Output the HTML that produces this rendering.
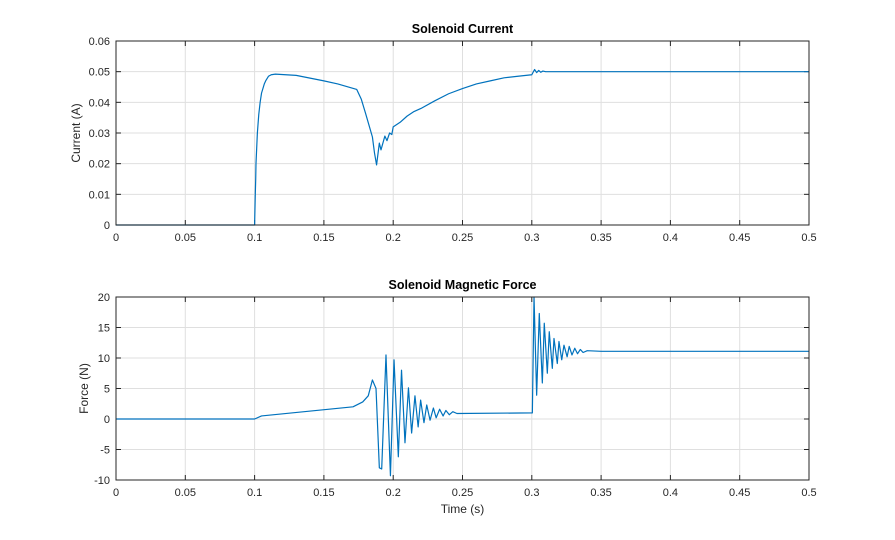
<!DOCTYPE html>
<html><head><meta charset="utf-8"><style>
body{margin:0;background:#fff;}
svg{display:block;font-family:"Liberation Sans",Arial,sans-serif;}
</style></head><body>
<svg id="fig" width="895" height="540"></svg>
<script>
const xTicks=[0,0.05,0.1,0.15,0.2,0.25,0.3,0.35,0.4,0.45,0.5];
const xTickLabels=["0","0.05","0.1","0.15","0.2","0.25","0.3","0.35","0.4","0.45","0.5"];
const curTicks=[0,0.01,0.02,0.03,0.04,0.05,0.06];
const curTickLabels=["0","0.01","0.02","0.03","0.04","0.05","0.06"];
const forceTicks=[-10,-5,0,5,10,15,20];
const forceTickLabels=["-10","-5","0","5","10","15","20"];
const curT=[0,0.1,0.1005,0.1008,0.101,0.1015,0.102,0.103,0.104,0.105,0.107,0.108,0.11,0.112,0.115,0.13,0.15,0.16,0.1737,0.177,0.18,0.185,0.1865,0.188,0.19,0.1912,0.194,0.1955,0.1974,0.199,0.2,0.205,0.21,0.215,0.22,0.23,0.24,0.25,0.26,0.27,0.28,0.29,0.3,0.302,0.3035,0.305,0.3065,0.308,0.31,0.35,0.5];
const curV=[0,0,0.01,0.015,0.02,0.025,0.03,0.036,0.04,0.043,0.046,0.047,0.0485,0.049,0.0492,0.0488,0.047,0.046,0.0442,0.041,0.0365,0.0287,0.0235,0.0196,0.0267,0.0245,0.029,0.0275,0.030,0.0295,0.032,0.0335,0.0355,0.037,0.038,0.0405,0.0428,0.0445,0.046,0.047,0.048,0.0485,0.049,0.0507,0.0497,0.0504,0.0498,0.0502,0.05,0.05,0.05];
const forceT=[0,0.1,0.105,0.171,0.178,0.182,0.185,0.1876,0.19,0.1917,0.1948,0.198,0.2006,0.2037,0.206,0.2085,0.211,0.2133,0.2157,0.218,0.2198,0.2222,0.2242,0.2266,0.229,0.231,0.2335,0.236,0.238,0.2405,0.243,0.246,0.3,0.3004,0.3016,0.3035,0.3054,0.3076,0.309,0.3112,0.3126,0.3148,0.316,0.3184,0.3196,0.3216,0.3232,0.3255,0.327,0.329,0.331,0.333,0.335,0.337,0.34,0.35,0.5];
const forceV=[0,0,0.5,2.0,2.8,3.8,6.4,5.0,-8.0,-8.2,10.5,-9.3,9.7,-6.2,8.0,-3.9,5.1,-2.3,3.8,-1.3,3.1,-0.6,2.3,-0.2,1.8,0.2,1.6,0.5,1.4,0.7,1.2,0.9,1.0,1.0,20,3.9,17.3,5.9,15.7,7.5,14.3,8.3,13.2,9.1,12.7,9.7,12.1,10.2,11.9,10.5,11.6,10.7,11.4,10.9,11.2,11.1,11.1];

const NS="http://www.w3.org/2000/svg";
const svg=document.getElementById('fig');
function mk(tag,attrs,parent,text){const e=document.createElementNS(NS,tag);for(const k in attrs)e.setAttribute(k,attrs[k]);if(text!==undefined)e.textContent=text;(parent||svg).appendChild(e);return e;}
const L=116,R=809;
function drawPanel(name,top,bottom,yTicks,yLabels,ymin,ymax,xs,ys,title,ylabel,ylx,showXLabel){
  const g=mk('g',{});
  
  
  const sx=t=>L+(t-0)/(0.5)*(R-L);
  const sy=v=>bottom-(v-ymin)/(ymax-ymin)*(bottom-top);
  mk('rect',{x:L,y:top,width:R-L,height:bottom-top,fill:'#fff'},g);
  xTicks.forEach((t,i)=>{
    const x=sx(t);
    const gl=mk('line',{x1:x,x2:x,y1:top,y2:bottom,stroke:'#dfdfdf','stroke-width':1},g);
    
    mk('line',{x1:x,x2:x,y1:bottom,y2:bottom-5,stroke:'#262626'},g);
    mk('line',{x1:x,x2:x,y1:top,y2:top+5,stroke:'#262626'},g);
    const tl=mk('text',{x:x,y:bottom+16,'font-size':11,'text-anchor':'middle',fill:'#262626'},g,xTickLabels[i]);
    
  });
  yTicks.forEach((v,i)=>{
    const y=sy(v);
    const gl=mk('line',{x1:L,x2:R,y1:y,y2:y,stroke:'#dfdfdf','stroke-width':1},g);
    
    mk('line',{x1:L,x2:L+5,y1:y,y2:y,stroke:'#262626'},g);
    mk('line',{x1:R,x2:R-5,y1:y,y2:y,stroke:'#262626'},g);
    const tl=mk('text',{x:L-6,y:y+4,'font-size':11,'text-anchor':'end',fill:'#262626'},g,yLabels[i]);
    
  });
  let d='';
  xs.forEach((t,i)=>{d+=(i?'L':'M')+sx(t).toFixed(2)+' '+sy(ys[i]).toFixed(2);});
  const p=mk('path',{d:d,fill:'none',stroke:'#0072bd','stroke-width':1.2,'stroke-linejoin':'round'},g);
  
  const box=mk('rect',{x:L,y:top,width:R-L,height:bottom-top,fill:'none',stroke:'#262626','stroke-width':1},g);
  
  const tt=mk('text',{x:(L+R)/2,y:top-8,'font-size':12.5,'font-weight':'bold','text-anchor':'middle',fill:'#000'},g,title);
  
  const cy=(top+bottom)/2;
  const yl=mk('text',{x:0,y:0,'font-size':12,'text-anchor':'middle',fill:'#262626',transform:'translate('+ylx+','+cy+') rotate(-90)'},g,ylabel);
  
  if(showXLabel){
    const xl=mk('text',{x:(L+R)/2,y:bottom+33,'font-size':12,'text-anchor':'middle',fill:'#262626'},g,'Time (s)');
    
  }
}
drawPanel('current',41,225,curTicks,curTickLabels,0,0.06,curT,curV,'Solenoid Current','Current (A)',80,false);
drawPanel('force',297,480,forceTicks,forceTickLabels,-10,20,forceT,forceV,'Solenoid Magnetic Force','Force (N)',88,true);
</script>
</body></html>
